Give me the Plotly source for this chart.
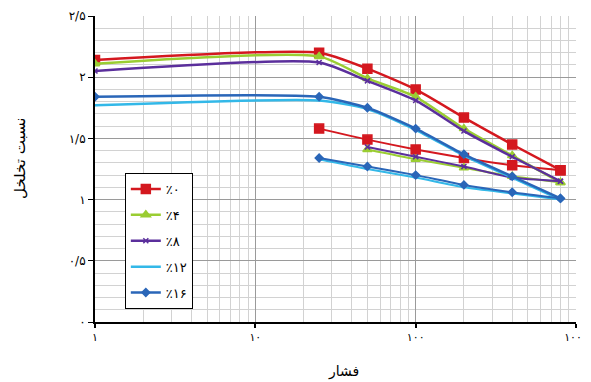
import plotly.graph_objects as go

# Pressure steps (loading and unloading)
p_load = [1, 25, 50, 100, 200, 400, 800]
p_unload = [25, 50, 100, 200, 400, 800]

# Void ratio, loading branch
e0_load = [2.14, 2.20, 2.07, 1.90, 1.67, 1.45, 1.24]
e4_load = [2.11, 2.17, 1.99, 1.84, 1.58, 1.36, 1.14]
e8_load = [2.05, 2.12, 1.97, 1.81, 1.56, 1.35, 1.15]
e12_load = [1.77, 1.81, 1.74, 1.57, 1.36, 1.18, 1.00]
e16_load = [1.84, 1.84, 1.75, 1.58, 1.37, 1.19, 1.01]

# Void ratio, unloading branch
e0_unload = [1.58, 1.49, 1.41, 1.34, 1.28, 1.24]
e4_unload = [None, 1.41, 1.33, 1.26, 1.19, 1.14]
e8_unload = [None, 1.43, 1.35, 1.27, 1.18, 1.15]
e12_unload = [1.33, 1.25, 1.18, 1.10, 1.05, 1.00]
e16_unload = [1.34, 1.27, 1.20, 1.12, 1.06, 1.01]

names = ["٪۰", "٪۴", "٪۸", "٪۱۲", "٪۱۶"]
loads = [e0_load, e4_load, e8_load, e12_load, e16_load]
unloads = [e0_unload, e4_unload, e8_unload, e12_unload, e16_unload]
colors = ["#d4181f", "#9acd32", "#5b2f9c", "#33b8e8", "#2a66b8"]
symbols = ["square", "triangle-up", "x-thin", "line-ew", "diamond"]
msizes = [9, 8, 5, 4, 6]

x_tickvals = [1, 10, 100, 1000]
x_ticktext = ["۱", "۱۰", "۱۰۰", "۱۰۰۰"]
y_tickvals = [0, 0.5, 1, 1.5, 2, 2.5]
y_ticktext = ["۰", "۰/۵", "۱", "۱/۵", "۲", "۲/۵"]

fig = go.Figure()
for i in range(5):
    mk = dict(symbol=symbols[i], size=msizes[i], color=colors[i],
              line=dict(color=colors[i], width=1.5))
    fig.add_trace(go.Scatter(
        x=p_load, y=loads[i], name=names[i], mode="lines+markers",
        line=dict(color=colors[i], width=2.5, shape="spline", smoothing=0.6),
        marker=mk, legendgroup=names[i]))
    fig.add_trace(go.Scatter(
        x=p_unload, y=unloads[i], name=names[i], mode="lines+markers",
        line=dict(color=colors[i], width=2, shape="spline", smoothing=0.6),
        marker=mk, legendgroup=names[i], showlegend=False, connectgaps=True))

font = "DejaVu Sans"
fig.update_layout(
    width=583, height=374,
    margin=dict(l=87, r=15, t=8, b=60, autoexpand=False),
    paper_bgcolor="white", plot_bgcolor="white",
    font=dict(family=font, size=12, color="black"),
    legend=dict(x=0.062, y=0.487, xanchor="left", yanchor="top",
                bgcolor="white", bordercolor="black", borderwidth=1,
                font=dict(size=13), tracegroupgap=6, itemwidth=30),
    showlegend=True,
    annotations=[
        dict(text="فشار", xref="paper", yref="paper", x=0.516, y=-0.163,
             showarrow=False, font=dict(size=14), xanchor="center", yanchor="middle"),
        dict(text="نسبت تخلخل", xref="paper", yref="paper", x=-0.156, y=0.536,
             showarrow=False, font=dict(size=15), textangle=-90,
             xanchor="center", yanchor="middle"),
    ],
)
fig.update_xaxes(
    type="log", range=[0, 3], automargin=False,
    tickvals=x_tickvals, ticktext=x_ticktext, ticklabeloverflow="allow",
    tickfont=dict(size=11),
    showgrid=True, gridcolor="#9a9a9a", gridwidth=1,
    minor=dict(dtick="D1", showgrid=True, gridcolor="#d2d2d2", gridwidth=1),
    showline=True, linecolor="black", linewidth=2,
    ticks="outside", ticklen=4, tickcolor="black", tickwidth=2,
    zeroline=False,
)
fig.update_yaxes(
    range=[0, 2.5], automargin=False,
    tickvals=y_tickvals, ticktext=y_ticktext,
    showgrid=True, gridcolor="#9a9a9a", gridwidth=1,
    minor=dict(dtick=0.1, showgrid=True, gridcolor="#d2d2d2", gridwidth=1),
    showline=True, linecolor="black", linewidth=2,
    ticks="outside", ticklen=5, tickcolor="black", tickwidth=1,
    zeroline=False,
)
fig.write_html("out.html")
